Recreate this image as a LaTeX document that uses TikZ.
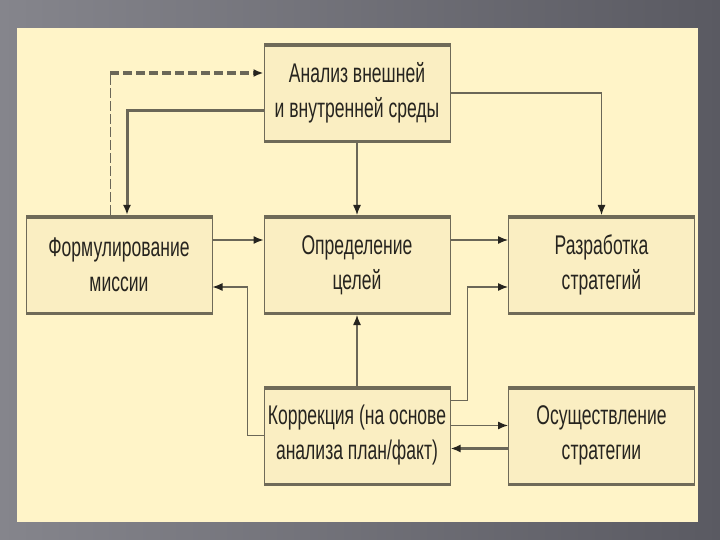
\documentclass[tikz,border=0pt]{standalone}
\usepackage{fontspec}
\setmainfont{Liberation Sans}[FakeStretch=0.65]
\usetikzlibrary{arrows.meta,positioning,calc}
\definecolor{panel}{HTML}{FFF4C8}
\definecolor{boxfill}{HTML}{FAEEC2}
\definecolor{boxline}{HTML}{6F6A58}
\definecolor{wire}{HTML}{6B6758}
\definecolor{ink}{HTML}{26241F}
\definecolor{bgl}{HTML}{85858C}
\definecolor{bgr}{HTML}{5A5A62}
\tikzset{
  blk/.style={rectangle,draw=boxline,fill=boxfill,line width=1pt,minimum width=186pt,
              minimum height=99pt,inner sep=0pt,align=center,text=ink,
              font=\fontsize{27}{35}\selectfont,
              path picture={\fill[boxline] (path picture bounding box.north west) rectangle
                              ([yshift=-4pt]path picture bounding box.north east);
                            \fill[boxline] (path picture bounding box.south west) rectangle
                              ([yshift=2.5pt]path picture bounding box.south east);}},
  wr/.style={draw=wire,line width=1.3pt,-{Latex[length=10pt,width=8pt,color=ink]}},
  wrb/.style={wr,line width=3pt},
  every picture/.style={line cap=butt,line join=miter}}

\begin{document}
\begin{tikzpicture}[x=1pt,y=-1pt]
  \useasboundingbox (0,0) rectangle (720,540);
  \shade[left color=bgl,right color=bgr] (0,0) rectangle (720,540);
  \fill[panel] (17,28) rectangle (698,522);
  \node[blk] (anal) at (357,93){Анализ внешней\\и внутренней среды};
  \node[blk] (miss) at (119,265){Формулирование\\миссии};
  \node[blk] (goal) at (357,265){Определение\\целей};
  \node[blk] (strat) at (601.5,265){Разработка\\стратегий};
  \node[blk] (corr) at (357,435.5){Коррекция (на основе\\анализа план/факт)};
  \node[blk] (impl) at (601.5,435.5){Осуществление\\стратегии};
  \coordinate (dk) at (110,73);
  \draw[wire,line width=0.8pt,dash pattern=on 10pt off 3pt] (miss.north -| dk)--(dk);
  \draw[wr,line width=3.5pt,dash pattern=on 9pt off 4pt] (dk)--(dk -| anal.west);
  \draw[wrb] ([yshift=-18pt]anal.west) -| ([xshift=8pt]miss.north);
  \draw[wr] (anal.south)--(goal.north);
  \draw[wr] (anal.east) -| (strat.north);
  \draw[wr] ([yshift=25pt]miss.east)--([yshift=25pt]goal.west);
  \draw[wr] ([yshift=25pt]goal.east)--([yshift=25pt]strat.west);
  \draw[wr] ([yshift=35pt]corr.east)--++(17,0) |- ([yshift=-22pt]strat.west);
  \draw[wr] (corr.north)--(goal.south);
  \draw[wr] (corr.west)--++(-16,0) |- ([yshift=-22pt]miss.east);
  \draw[wr] ([yshift=10pt]corr.east)--([yshift=10pt]impl.west);
  \draw[wrb] ([yshift=-13pt]impl.west)--([yshift=-13pt]corr.east);
\end{tikzpicture}
\end{document}
